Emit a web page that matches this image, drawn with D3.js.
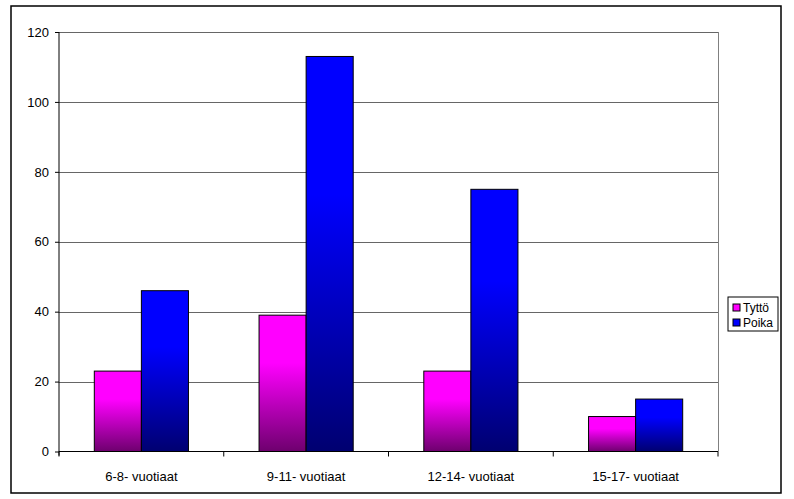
<!DOCTYPE html>
<html>
<head>
<meta charset="utf-8">
<script src="https://cdn.jsdelivr.net/npm/d3@7"></script>
<style>
  html, body { margin: 0; padding: 0; background: #fff; }
  svg { display: block; font-family: "Liberation Sans", Arial, sans-serif; }
</style>
</head>
<body>
<svg id="chart" width="794" height="499"></svg>
<script>
// Age groups and counts per gender
const categories = ["6-8- vuotiaat", "9-11- vuotiaat", "12-14- vuotiaat", "15-17- vuotiaat"];
const seriesNames = ["Tyttö", "Poika"];
const tytto = [23, 39, 23, 10];
const poika = [46, 113, 75, 15];
const yTicks = [0, 20, 40, 60, 80, 100, 120];

const rows = categories.map((c, i) => ({ cat: c, values: [tytto[i], poika[i]] }));

const svg = d3.select("#chart");
const plot = { left: 59, top: 32, right: 718, bottom: 451.5 };

// Vertical gradients for the two series
const defs = svg.append("defs");
const grads = [
  { id: "gTytto", top: "#ff00ff", bottom: "#6e006e" },
  { id: "gPoika", top: "#0000ff", bottom: "#000070" }
];
grads.forEach(g => {
  const lg = defs.append("linearGradient").attr("id", g.id)
    .attr("x1", 0).attr("y1", 0).attr("x2", 0).attr("y2", 1);
  lg.append("stop").attr("offset", "0%").attr("stop-color", g.top);
  lg.append("stop").attr("offset", "35%").attr("stop-color", g.top);
  lg.append("stop").attr("offset", "100%").attr("stop-color", g.bottom);
});

// Outer frame
svg.append("rect")
  .attr("x", 11).attr("y", 6).attr("width", 770).attr("height", 487)
  .attr("fill", "#fff").attr("stroke", "#000").attr("stroke-width", 1.5);

const x0 = d3.scaleBand().domain(categories).range([plot.left, plot.right]).padding(0);
const x1 = d3.scaleBand().domain(seriesNames)
  .range([0, x0.bandwidth()]).paddingInner(0).paddingOuter(0.75);
const y = d3.scaleLinear().domain([0, 120]).range([plot.bottom, plot.top]);

// Gridlines
svg.append("g")
  .selectAll("line").data(yTicks.filter(t => t > 0)).join("line")
  .attr("x1", plot.left).attr("x2", plot.right)
  .attr("y1", d => Math.round(y(d)) + 0.5).attr("y2", d => Math.round(y(d)) + 0.5)
  .attr("stroke", "#666").attr("stroke-width", 1.2);

// Right border of plot area
svg.append("line")
  .attr("x1", plot.right + 0.5).attr("x2", plot.right + 0.5)
  .attr("y1", plot.top).attr("y2", plot.bottom)
  .attr("stroke", "#808080").attr("stroke-width", 1);

// Bars
const fills = ["url(#gTytto)", "url(#gPoika)"];
const groups = svg.append("g").selectAll("g").data(rows).join("g")
  .attr("transform", d => `translate(${x0(d.cat)},0)`);
groups.selectAll("rect").data(d => d.values.map((v, i) => ({ v, i }))).join("rect")
  .attr("x", d => x1(seriesNames[d.i]))
  .attr("y", d => y(d.v))
  .attr("width", x1.bandwidth())
  .attr("height", d => y(0) - y(d.v))
  .attr("fill", d => fills[d.i])
  .attr("stroke", "#000").attr("stroke-width", 1);

// Y axis
const yAxis = d3.axisLeft(y).tickValues(yTicks).tickSize(4).tickPadding(6).tickFormat(d3.format("d"));
const ya = svg.append("g").attr("transform", `translate(${plot.left},0)`).call(yAxis);
ya.select(".domain").attr("d", `M0,${plot.top}V${plot.bottom + 4}`).attr("stroke", "#000");
ya.selectAll(".tick line").attr("stroke", "#000");
ya.selectAll("text").attr("font-size", 13).attr("fill", "#000")
  .attr("font-family", "Liberation Sans, Arial, sans-serif");

// X axis with ticks between categories
const xa = svg.append("g").attr("transform", `translate(0,${plot.bottom})`);
xa.append("line").attr("x1", plot.left).attr("x2", plot.right).attr("stroke", "#000");
const bounds = categories.map(c => x0(c)).concat([plot.right]);
xa.selectAll("line.tk").data(bounds).join("line").attr("class", "tk")
  .attr("x1", d => d).attr("x2", d => d).attr("y1", 0).attr("y2", 5).attr("stroke", "#000");
xa.selectAll("text").data(categories).join("text")
  .attr("x", d => x0(d) + x0.bandwidth() / 2)
  .attr("y", 29)
  .attr("text-anchor", "middle")
  .attr("font-size", 13)
  .text(d => d);

// Legend
const lg = svg.append("g").attr("transform", "translate(728,297)");
lg.append("rect").attr("x", 0).attr("y", 0).attr("width", 50).attr("height", 34)
  .attr("fill", "#fff").attr("stroke", "#000").attr("stroke-width", 1);
const legendFill = ["#ff00ff", "#0000ff"];
seriesNames.forEach((name, i) => {
  const row = lg.append("g").attr("transform", `translate(5,${6 + i * 15})`);
  row.append("rect").attr("x", 0).attr("y", 1).attr("width", 7).attr("height", 7)
    .attr("fill", legendFill[i]).attr("stroke", "#000").attr("stroke-width", 1);
  row.append("text").attr("x", 10).attr("y", 9).attr("font-size", 12).text(name);
});
</script>
</body>
</html>
